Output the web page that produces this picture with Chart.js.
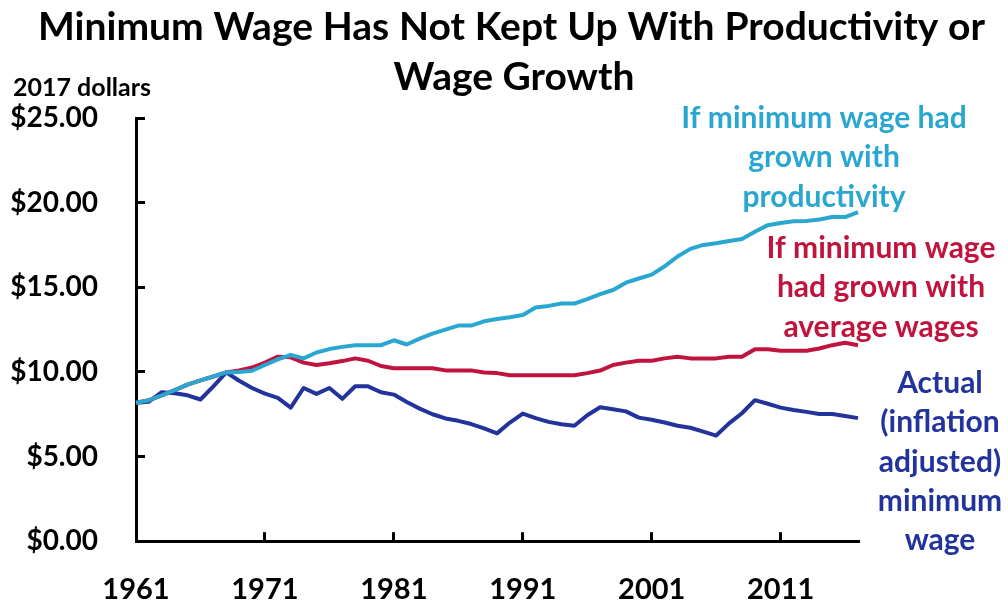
<!DOCTYPE html>
<html>
<head>
<meta charset="utf-8">
<script src="https://cdn.jsdelivr.net/npm/chart.js@4.4.1/dist/chart.umd.min.js"></script>
<style>
  html, body { margin: 0; padding: 0; background: #fff; }
  #wrap { width: 1008px; height: 605px; }
</style>
</head>
<body>
<div id="wrap"><canvas id="grafico" width="1008" height="605"></canvas></div>
<script>
// Anos (categorias do eixo x)
const anos = ['1961','1962','1963','1964','1965','1966','1967','1968','1969','1970',
  '1971','1972','1973','1974','1975','1976','1977','1978','1979','1980',
  '1981','1982','1983','1984','1985','1986','1987','1988','1989','1990',
  '1991','1992','1993','1994','1995','1996','1997','1998','1999','2000',
  '2001','2002','2003','2004','2005','2006','2007','2008','2009','2010',
  '2011','2012','2013','2014','2015','2016','2017'];

// Salário mínimo se tivesse crescido com a produtividade
const comProdutividade = [8.18, 8.33, 8.62, 8.92, 9.25, 9.50, 9.73, 9.97, 10.00, 10.07,
  10.41, 10.74, 11.00, 10.80, 11.15, 11.35, 11.48, 11.58, 11.58, 11.58,
  11.87, 11.62, 11.97, 12.26, 12.50, 12.74, 12.74, 12.99, 13.13, 13.23,
  13.36, 13.81, 13.90, 14.04, 14.04, 14.30, 14.59, 14.84, 15.27, 15.52,
  15.75, 16.24, 16.82, 17.27, 17.50, 17.60, 17.73, 17.85, 18.28, 18.67,
  18.80, 18.90, 18.92, 19.00, 19.15, 19.15, 19.44];

// Salário mínimo se tivesse crescido com o salário médio
const comSalarioMedio = [8.18, 8.33, 8.62, 8.92, 9.25, 9.50, 9.73, 9.97, 10.09, 10.26,
  10.55, 10.90, 10.86, 10.55, 10.41, 10.51, 10.64, 10.80, 10.66, 10.35,
  10.22, 10.22, 10.22, 10.22, 10.09, 10.09, 10.09, 9.97, 9.93, 9.80,
  9.80, 9.80, 9.80, 9.80, 9.80, 9.93, 10.08, 10.41, 10.55, 10.66,
  10.66, 10.80, 10.90, 10.80, 10.80, 10.80, 10.90, 10.90, 11.34, 11.34,
  11.25, 11.25, 11.25, 11.38, 11.58, 11.72, 11.58];

// Salário mínimo real (ajustado pela inflação)
const salarioReal = [8.18, 8.24, 8.80, 8.74, 8.62, 8.37, 9.15, 9.97, 9.48, 9.05,
  8.72, 8.47, 7.89, 9.05, 8.70, 9.05, 8.41, 9.15, 9.15, 8.80,
  8.66, 8.22, 7.83, 7.50, 7.25, 7.11, 6.92, 6.66, 6.37, 7.01,
  7.54, 7.27, 7.05, 6.91, 6.82, 7.44, 7.91, 7.79, 7.67, 7.30,
  7.17, 7.01, 6.82, 6.70, 6.47, 6.24, 6.96, 7.56, 8.33, 8.12,
  7.89, 7.75, 7.64, 7.52, 7.52, 7.40, 7.27];

const tituloLinha1 = 'Minimum Wage Has Not Kept Up With Productivity or';
const tituloLinha2 = 'Wage Growth';
const unidade = '2017 dollars';

const azulClaro = '#2aa7d0';
const vermelho = '#c0143e';
const azulEscuro = '#22349c';
const fonte = 'Lato, "Open Sans", sans-serif';

// Rótulos ao lado das linhas
const rotulos = [
  { linhas: ['If minimum wage had', 'grown with', 'productivity'], cor: azulClaro, x: 824, y: 128 },
  { linhas: ['If minimum wage', 'had grown with', 'average wages'], cor: vermelho, x: 881, y: 258 },
  { linhas: ['Actual', '(inflation', 'adjusted)', 'minimum', 'wage'], cor: azulEscuro, x: 940, y: 393 }
];

// Plugin para o título justificado e os textos
const textosPlugin = {
  id: 'textos',
  afterDraw(chart) {
    const ctx = chart.ctx;
    ctx.save();
    ctx.fillStyle = '#000';
    ctx.textBaseline = 'alphabetic';

    // título, primeira linha justificada
    ctx.font = 'bold 39px ' + fonte;
    const palavras = tituloLinha1.split(' ');
    const larguras = palavras.map(p => ctx.measureText(p).width);
    const total = larguras.reduce((s, w) => s + w, 0);
    const esq = 38, dir = 985;
    const espaco = (dir - esq - total) / (palavras.length - 1);
    let x = esq;
    ctx.textAlign = 'left';
    palavras.forEach((p, i) => {
      ctx.fillText(p, x, 40);
      x += larguras[i] + espaco;
    });
    ctx.textAlign = 'center';
    ctx.fillText(tituloLinha2, 514, 90);

    ctx.font = 'bold 25px ' + fonte;
    ctx.textAlign = 'left';
    ctx.fillText(unidade, 13, 96);

    ctx.font = 'bold 30px ' + fonte;
    ctx.textAlign = 'center';
    rotulos.forEach(r => {
      ctx.fillStyle = r.cor;
      r.linhas.forEach((l, i) => ctx.fillText(l, r.x, r.y + i * 39.3));
    });
    ctx.restore();
  }
};

const config = {
  type: 'line',
  data: {
    labels: anos,
    datasets: [
      { label: 'If minimum wage had grown with productivity', data: comProdutividade, borderColor: azulClaro },
      { label: 'If minimum wage had grown with average wages', data: comSalarioMedio, borderColor: vermelho },
      { label: 'Actual (inflation adjusted) minimum wage', data: salarioReal, borderColor: azulEscuro }
    ]
  },
  options: {
    responsive: false,
    animation: false,
    layout: { padding: { top: 118, right: 150, left: 0, bottom: 0 } },
    elements: {
      line: { borderWidth: 4, tension: 0, fill: false, borderJoinStyle: 'round' },
      point: { radius: 0 }
    },
    plugins: {
      legend: { display: false },
      title: { display: false },
      tooltip: { enabled: false }
    },
    scales: {
      x: {
        offset: false,
        afterFit(scale) { scale.height = 58; },
        border: { color: '#000', width: 3 },
        grid: {
          drawOnChartArea: false,
          tickLength: -9,
          lineWidth: 3,
          color: (c) => (c.index % 10 === 0 ? '#000' : 'rgba(0,0,0,0)')
        },
        ticks: {
          autoSkip: false,
          maxRotation: 0,
          padding: 40,
          color: '#000',
          font: { family: fonte, size: 29, weight: 'bold' },
          callback(v, i) { return i % 10 === 0 ? anos[i] : ''; }
        }
      },
      y: {
        min: 0,
        max: 25,
        afterFit(scale) { scale.width = 136; },
        border: { color: '#000', width: 3 },
        grid: { drawOnChartArea: false, tickLength: -9, lineWidth: 3, color: '#000' },
        ticks: {
          stepSize: 5,
          padding: 47,
          color: '#000',
          font: { family: fonte, size: 28, weight: 'bold' },
          callback(v) { return '$' + v.toFixed(2); }
        }
      }
    }
  },
  plugins: [textosPlugin]
};

new Chart(document.getElementById('grafico'), config);
</script>
</body>
</html>
